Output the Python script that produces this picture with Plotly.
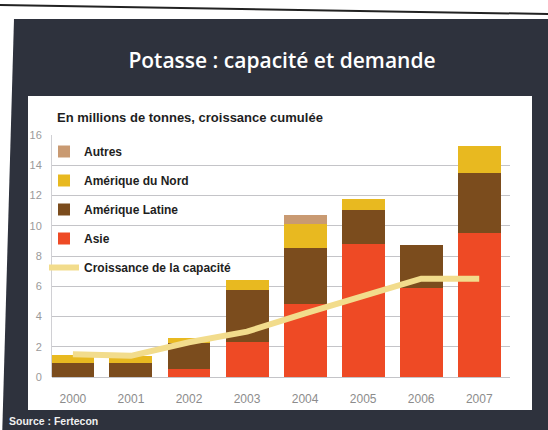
import plotly.graph_objects as go

# Potash demand growth by region (cumulative, million tonnes) and capacity growth
years = ["2000", "2001", "2002", "2003", "2004", "2005", "2006", "2007"]
asie = [0.0, 0.0, 0.55, 2.3, 4.8, 8.8, 5.9, 9.5]
amerique_latine = [0.9, 0.9, 1.7, 3.45, 3.7, 2.25, 2.8, 4.0]
amerique_nord = [0.55, 0.5, 0.35, 0.65, 1.6, 0.75, 0.0, 1.8]
autres = [0.0, 0.0, 0.0, 0.0, 0.6, 0.0, 0.0, 0.0]
capacite = [1.5, 1.4, 2.3, 3.0, 4.2, 5.3, 6.5, 6.5]
y_ticks = [0, 2, 4, 6, 8, 10, 12, 14, 16]

W, H = 548, 430
PL, PR, PT, PB = 52, 510, 135, 377  # plot area in pixels
FONT = "Liberation Sans, Arial, sans-serif"


def px(x):
    return (x - PL) / (PR - PL)


def py(y):
    return (PB - y) / (PB - PT)


fig = go.Figure()

series = [
    ("Asie", asie, "#ee4a25", 4),
    ("Amérique Latine", amerique_latine, "#7b4c1d", 3),
    ("Amérique du Nord", amerique_nord, "#e8b920", 2),
    ("Autres", autres, "#c99a72", 1),
]
for name, vals, color, rank in series:
    fig.add_trace(go.Bar(
        x=years, y=vals, name=name, marker=dict(color=color, line=dict(width=0)),
        legendrank=rank, legendgroup=name,
    ))

fig.add_trace(go.Scatter(
    x=years, y=capacite, name="Croissance de la capacité", mode="lines",
    line=dict(color="#f2dc8c", width=6), legendrank=5, legendgroup="cap",
))


def poly(points):
    return "M " + " L ".join(f"{px(x):.5f},{py(y):.5f}" for x, y in points) + " Z"


shapes = [
    # dark slide background
    dict(type="path", xref="paper", yref="paper",
         path=poly([(14, 19), (560, 19), (560, 440), (2, 440)]),
         fillcolor="#2e323d", line=dict(width=0), layer="below"),
    # rule at the top of the page
    dict(type="line", xref="paper", yref="paper", x0=px(0), x1=px(548),
         y0=py(5), y1=py(14), line=dict(color="#222222", width=2), layer="below"),
    # white chart panel
    dict(type="rect", xref="paper", yref="paper", x0=px(28), x1=px(532),
         y0=py(96), y1=py(410), fillcolor="#ffffff", line=dict(width=0), layer="below"),
]

annotations = [
    dict(text="<b>En millions de tonnes, croissance cumulée</b>", xref="paper", yref="paper",
         x=px(55), y=py(117), xanchor="left", yanchor="middle", showarrow=False,
         font=dict(family=FONT, size=13, color="#1e1e1e")),
    dict(text="<b>Source : Fertecon</b>", xref="paper", yref="paper",
         x=px(7), y=py(421), xanchor="left", yanchor="middle", showarrow=False,
         font=dict(family=FONT, size=10.5, color="#f0f0f0")),
]

fig.update_layout(
    width=W, height=H,
    margin=dict(l=PL, r=W - PR, t=PT, b=H - PB, pad=0),
    paper_bgcolor="#ffffff",
    plot_bgcolor="rgba(0,0,0,0)",
    barmode="stack",
    bargap=0.26,
    title=dict(text="Potasse : capacité et demande", xref="paper", yref="container",
               x=px(282), y=1 - 61 / H, xanchor="center", yanchor="middle",
               font=dict(family="Open Sans, sans-serif", size=21, color="#ffffff", weight=600)),
    showlegend=True,
    legend=dict(x=px(44), y=py(137), xanchor="left", yanchor="top",
                bgcolor="rgba(0,0,0,0)", tracegroupgap=10,
                font=dict(family=FONT, size=12, color="#1e1e1e", weight="bold")),
    shapes=shapes,
    annotations=annotations,
    xaxis=dict(range=[-0.36, 7.53], showgrid=False, showline=False, zeroline=False,
               ticks="", ticklabelstandoff=13,
               tickfont=dict(family=FONT, size=12, color="#8c8c8c")),
    yaxis=dict(range=[0, 16], tickvals=y_ticks, showgrid=True, gridcolor="#c4c4c8", gridwidth=1,
               zeroline=True, zerolinecolor="#c4c4c8", zerolinewidth=1,
               showline=True, linecolor="#d0d0d4", linewidth=1, ticks="", ticklabelstandoff=7,
               tickfont=dict(family=FONT, size=11, color="#9a9a9a")),
)

fig.write_html("out.html")
